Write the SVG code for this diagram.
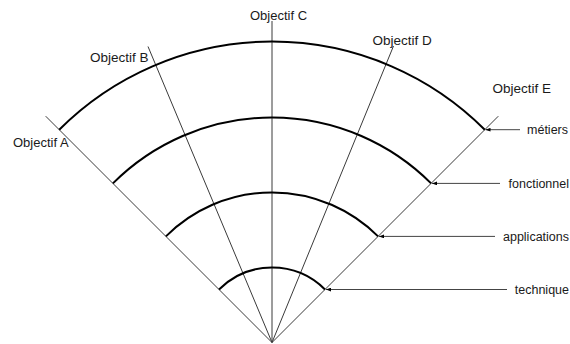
<svg xmlns="http://www.w3.org/2000/svg" width="570" height="344" viewBox="0 0 570 344">
<style>
.ray{stroke:#3a3a3a;stroke-width:1;fill:none}
.arc{stroke:#000;stroke-width:2;fill:none}
.lbl{font-family:"Liberation Sans",Arial,sans-serif;fill:#1a1a1a}
.obj{font-size:13px}
.lay{font-size:12.5px;text-anchor:end}
.con{stroke:#444;stroke-width:1;fill:none;marker-end:url(#ah)}
</style>
<defs>
<marker id="ah" viewBox="0 0 8 6" refX="8" refY="3" markerWidth="5" markerHeight="4" orient="auto" markerUnits="userSpaceOnUse">
<path d="M0,0 L8,3 L0,6 Z" fill="#000"/>
</marker>
</defs>
<rect width="570" height="344" fill="#fff"/>
<g id="objectif-a"><line class="ray" x1="272" y1="342.5" x2="45.7" y2="116.2"/><text class="lbl obj" x="13" y="146.7">Objectif A</text></g>
<g id="objectif-b"><line class="ray" x1="272" y1="342.5" x2="148" y2="46.5"/><text class="lbl obj" style="font-size:13.5px" x="90" y="61.5">Objectif B</text></g>
<g id="objectif-c"><line class="ray" x1="272" y1="342.5" x2="272" y2="21"/><text class="lbl obj" x="250" y="20">Objectif C</text></g>
<g id="objectif-d"><line class="ray" x1="272" y1="342.5" x2="393.5" y2="46"/><text class="lbl obj" style="font-size:13.5px" x="372.5" y="45">Objectif D</text></g>
<g id="objectif-e"><line class="ray" x1="272" y1="342.5" x2="498.3" y2="116.2"/><text class="lbl obj" style="font-size:13.5px" x="492.5" y="93.3">Objectif E</text></g>
<g id="metiers"><path class="arc" d="M59.2,129.7 A301,301 0 0 1 484.8,129.7"/><text class="lbl lay" x="568" y="133.5">métiers</text></g>
<g id="fonctionnel"><path class="arc" d="M112.9,183.4 A225,225 0 0 1 431.1,183.4"/><text class="lbl lay" x="569" y="187.5">fonctionnel</text></g>
<g id="applications"><path class="arc" d="M165.9,236.4 A150,150 0 0 1 378.1,236.4"/><text class="lbl lay" x="569" y="240.5">applications</text></g>
<g id="technique"><path class="arc" d="M219,289.5 A75,75 0 0 1 325,289.5"/><text class="lbl lay" x="569" y="294">technique</text></g>
<g id="connectors">
<line class="con" x1="520" y1="129.7" x2="485.5" y2="129.7"/>
<line class="con" x1="500" y1="183.4" x2="432" y2="183.4"/>
<line class="con" x1="495" y1="236.4" x2="379" y2="236.4"/>
<line class="con" x1="507" y1="289.5" x2="326" y2="289.5"/>
</g>
</svg>
